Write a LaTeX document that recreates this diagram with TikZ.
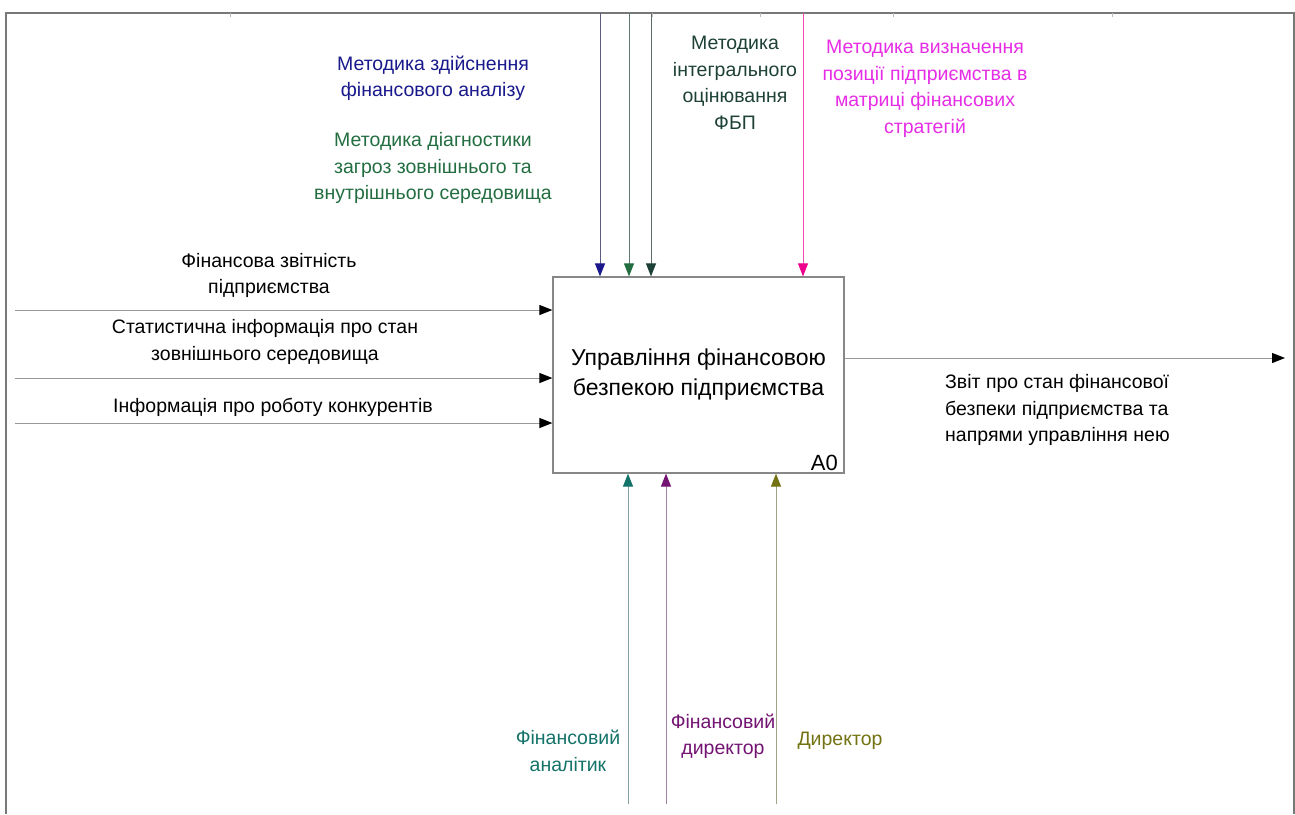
\documentclass[tikz,border=0pt]{standalone}
\usepackage{fontspec}
\setmainfont{Liberation Sans}
\usetikzlibrary{arrows.meta}
\definecolor{framegray}{RGB}{120,120,120}
\definecolor{boxgray}{RGB}{135,135,135}
\definecolor{cnavy}{RGB}{25,25,140}
\definecolor{cgreen}{RGB}{35,110,65}
\definecolor{cdkgreen}{RGB}{30,65,55}
\definecolor{cmag}{RGB}{230,45,230}
\definecolor{cteal}{RGB}{20,115,105}
\definecolor{cpurple}{RGB}{115,20,115}
\definecolor{colive}{RGB}{115,115,20}
\begin{document}
\begin{tikzpicture}[x=1pt,y=-1pt,
  lbl/.style={font=\fontsize{19.5}{26.5}\selectfont, align=center, inner sep=0pt},
  box/.style={draw=boxgray, line width=1.2pt, minimum width=291pt, minimum height=196pt, inner sep=0pt, align=center, font=\fontsize{23}{30}\selectfont},
  arr/.style 2 args={draw=#1, line width=1pt, -{Triangle[length=13pt,width=10pt,color=#2,fill=#2]}},
  frame/.style={draw=framegray, line width=1.4pt}]
\useasboundingbox (0,0) rectangle (1295,814);
\fill[white] (0,0) rectangle (1295,814);
% frame
\draw[frame] (6,814) -- (6,13) -- (1294,13) -- (1294,814);
\foreach \tx in {230,652,760,893,1112} \draw[draw=framegray!50, line width=0.6pt] (\tx,13) -- (\tx,17);
% main box
\node[box] (A0) at (698.5,375) {Управління фінансовою\\безпекою підприємства};
\node[anchor=base east, inner sep=0pt, font=\fontsize{22}{26}\selectfont] (a0lbl) at (838,470) {A0};
% inputs
\coordinate (in1) at (15,310);
\coordinate (in2) at (15,378);
\coordinate (in3) at (15,423);
\draw[arr={gray!80}{black}] (in1) -- (in1 -| A0.west);
\draw[arr={gray!80}{black}] (in2) -- (in2 -| A0.west);
\draw[arr={gray!80}{black}] (in3) -- (in3 -| A0.west);
\node[lbl] (tin1) at (269,275.5) {Фінансова звітність\\підприємства};
\node[lbl] (tin2) at (265,342) {Статистична інформація про стан\\зовнішнього середовища};
\node[lbl] (tin3) at (273,407) {Інформація про роботу конкурентів};
% output
\coordinate (out) at (1285,358);
\draw[arr={gray!80}{black}] (A0.east |- out) -- (out);
\node[lbl, align=left, anchor=west] (tout) at (945,410) {Звіт про стан фінансової\\безпеки підприємства та\\напрями управління нею};
% controls
\coordinate (c1) at (600,13);
\coordinate (c2) at (629,13);
\coordinate (c3) at (651,13);
\coordinate (c4) at (803,13);
\draw[arr={cnavy!35!gray}{cnavy}] (c1) -- (c1 |- A0.north);
\draw[arr={cgreen!35!gray}{cgreen}] (c2) -- (c2 |- A0.north);
\draw[arr={cdkgreen!35!gray}{cdkgreen}] (c3) -- (c3 |- A0.north);
\draw[arr={magenta!70}{magenta}] (c4) -- (c4 |- A0.north);
\node[lbl, text=cnavy] (tc1) at (433,78.5) {Методика здійснення\\фінансового аналізу};
\node[lbl, text=cgreen] (tc2) at (433,168) {Методика діагностики\\загроз зовнішнього та\\внутрішнього середовища};
\node[lbl, text=cdkgreen] (tc3) at (735,83) {Методика\\інтегрального\\оцінювання\\ФБП};
\node[lbl, text=cmag] (tc4) at (925,89) {Методика визначення\\позиції підприємства в\\матриці фінансових\\стратегій};
% mechanisms
\coordinate (m1) at (628,804);
\coordinate (m2) at (666,804);
\coordinate (m3) at (776,804);
\draw[arr={cteal!45!gray!70}{cteal}] (m1) -- (m1 |- A0.south);
\draw[arr={cpurple!45!gray!70}{cpurple}] (m2) -- (m2 |- A0.south);
\draw[arr={colive!45!gray!70}{colive}] (m3) -- (m3 |- A0.south);
\node[lbl, text=cteal] (tm1) at (568,751) {Фінансовий\\аналітик};
\node[lbl, text=cpurple] (tm2) at (723,736.5) {Фінансовий\\директор};
\node[lbl, text=colive] (tm3) at (840,741) {Директор};
\end{tikzpicture}
\end{document}
